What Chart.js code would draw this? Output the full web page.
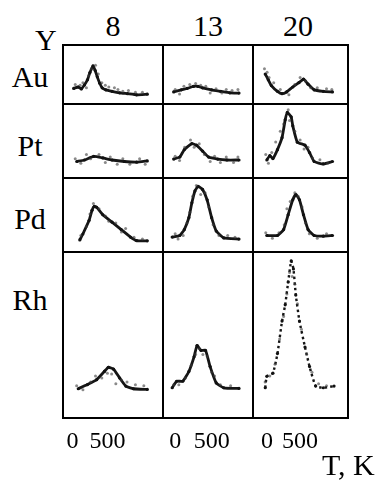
<!DOCTYPE html>
<html lang="en">
<head>
<meta charset="UTF-8">
<title>TPD spectra</title>
<script src="https://cdn.jsdelivr.net/npm/chart.js"></script>
<style>
	body { margin: 0; width: 384px; height: 481px; background: #fff; position: relative; overflow: hidden;
		font-family: "Liberation Serif", "Times New Roman", serif; color: #000; }
	.lbl { position: absolute; line-height: 1; font-size: 30px; white-space: nowrap; }
	.cell { position: absolute; }
	.line { position: absolute; background: #000; z-index: 2; }
</style>
</head>
<body>
<div id="grid"></div>
<script>
// column headers (particle size) and row labels (metal)
const sizes = ['8', '13', '20'];
const elements = ['Au', 'Pt', 'Pd', 'Rh'];
const yLabel = 'Y';
const axisTitle = 'T, K';
const tickValues = [0, 500];
const tickLabels = ['0', '500'];

// [T (K), intensity (a.u.)]
const au8 = [[17,13.3],[83,15],[127,12.7],[171,17.3],[215,23.3],[250,31.7],[294,39.3],[325,34],[355,26.7],[390,19.3],[425,14],[478,11.7],[566,10],[675,8.3],[785,7.3],[917,6],[1070,6.7]];
const au13 = [[-21,9.3],[84,11.7],[163,13.3],[250,15.7],[313,15.7],[375,14],[500,11.7],[625,10],[750,8.3],[875,8]];
const au20 = [[-28,30],[18,23.3],[65,16.7],[157,10],[226,7.3],[296,9.3],[389,15],[482,20],[551,24],[621,18.3],[713,11.7],[851,10],[990,9.3]];
const pt8 = [[62,14],[171,15.7],[303,19.7],[434,18],[566,15.7],[741,14],[917,13.3],[1070,14.7]];
const pt13 = [[-21,16.7],[63,19],[125,27.3],[229,34],[291,32.3],[375,25.7],[459,19],[584,16.7],[709,15.7],[875,15.7]];
const pt20 = [[-4,15.7],[42,20.7],[88,17.3],[157,27.3],[226,40.7],[274,60.7],[306,69],[365,64],[389,54],[458,35.7],[574,32.3],[643,24],[713,14],[851,11.3],[990,14]];
const pd8 = [[105,9],[149,15.7],[237,30.7],[280,42.3],[312,46.7],[346,45.7],[434,37.3],[566,29],[697,20.7],[829,12.3],[917,8.3],[1070,8]];
const pd13 = [[-41,12.3],[63,14],[125,20.7],[188,34],[229,50.7],[271,64],[313,69],[375,65.7],[438,54],[500,34],[563,19],[666,11.3],[875,10]];
const pd20 = [[-4,14],[157,14],[250,20.7],[319,37.3],[389,54],[435,60],[490,54],[551,37.3],[621,20.7],[713,14],[851,13.3],[990,14]];
const rh8 = [[83,31],[215,35.3],[346,40.3],[457,48.7],[513,53],[588,51],[675,42],[763,33.7],[872,31],[1070,30.3]];
const rh13 = [[-41,32],[21,38.7],[104,38.7],[188,48.7],[259,63.7],[300,75.3],[354,70.3],[416,70.3],[479,53.7],[563,37],[666,32],[875,31.3]];
const rh20 = [[-28,32],[-4,43.7],[88,47],[157,67],[226,100.3],[274,117],[319,140.3],[365,162],[399,153.7],[435,127],[490,100.3],[574,73.7],[643,53.7],[736,33.7],[851,32],[1014,33.7]];

// scattered points around each curve
const au8Noise = [[40,18],[110,17],[150,20],[200,14],[230,28],[270,36],[330,40],[370,30],[420,20],[470,17],[520,15],[600,14],[650,12],[720,10],[800,11],[900,9],[1000,9]];
const au13Noise = [[0,12],[60,7],[120,16],[200,18],[280,19],[350,17],[420,16],[480,8],[560,13],[640,8],[700,12],[780,11],[860,12]];
const au20Noise = [[-40,36],[0,32],[30,26],[100,20],[200,12],[330,6],[420,18],[500,26],[580,22],[660,14],[760,14],[900,13],[980,12]];
const pt8Noise = [[40,17],[120,12],[200,22],[260,17],[380,22],[470,13],[540,19],[640,11],[720,17],[820,11],[960,17],[1040,11]];
const pt13Noise = [[0,20],[60,15],[130,30],[210,38],[260,30],[330,34],[400,22],[480,14],[540,20],[620,13],[700,19],[800,13],[860,19]];
const pt20Noise = [[-20,22],[20,12],[70,24],[130,36],[200,48],[250,56],[320,72],[340,60],[420,48],[500,38],[560,28],[620,30],[690,18],[800,16],[920,12]];
const pd8Noise = [[120,14],[200,24],[250,38],[300,50],[380,44],[470,36],[520,30],[620,28],[700,18],[760,22],[880,12],[1000,10]];
const pd13Noise = [[0,16],[40,10],[110,14],[160,28],[200,40],[240,58],[290,70],[350,60],[410,62],[460,46],[520,26],[600,14],[720,14],[820,12]];
const pd20Noise = [[-20,17],[80,11],[180,17],[260,26],[300,44],[350,52],[420,62],[470,58],[530,46],[580,28],[640,16],[760,11],[900,16]];
const rh8Noise = [[60,34],[150,30],[260,38],[330,44],[420,42],[500,47],[560,46],[620,36],[700,40],[780,38],[900,35],[1020,34]];
const rh13Noise = [[-20,35],[50,35],[140,42],[220,55],[280,66],[330,72],[380,66],[440,64],[500,48],[540,44],[620,35],[760,34]];
const rh20Noise = [[-30,38],[40,44],[120,56],[190,82],[250,105],[300,128],[340,150],[380,146],[420,138],[460,118],[520,92],[600,66],[680,48],[780,36],[900,34]];

const curves = [[au8, au13, au20], [pt8, pt13, pt20], [pd8, pd13, pd20], [rh8, rh13, rh20]];
const noise = [[au8Noise, au13Noise, au20Noise], [pt8Noise, pt13Noise, pt20Noise], [pd8Noise, pd13Noise, pd20Noise], [rh8Noise, rh13Noise, rh20Noise]];

// layout of the panel grid (pixels)
const colLeft = [62, 163, 253], colRight = [163, 253, 349];
const rowTop = [44, 104, 178, 252], rowBottom = [104, 178, 252, 419];
const xRange = [[-92, 1237], [-112, 1012], [-153, 1180]];
const tickRoom = 40;

const grid = document.getElementById('grid');

function addText(text, left, top, size, width) {
	const d = document.createElement('div');
	d.className = 'lbl';
	d.textContent = text;
	d.style.left = left + 'px';
	d.style.top = top + 'px';
	d.style.fontSize = size + 'px';
	if(width) { d.style.width = width + 'px'; d.style.textAlign = 'center'; }
	grid.appendChild(d);
}

function addLine(left, top, width, height) {
	const d = document.createElement('div');
	d.className = 'line';
	d.style.left = left + 'px';
	d.style.top = top + 'px';
	d.style.width = width + 'px';
	d.style.height = height + 'px';
	grid.appendChild(d);
}

const tickPlugin = {
	id: 'bottomTicks',
	afterDraw(chart) {
		const ctx = chart.ctx;
		const xs = chart.scales.x;
		ctx.save();
		ctx.font = '24px "Liberation Serif", serif';
		ctx.fillStyle = '#000';
		ctx.textAlign = 'center';
		ctx.textBaseline = 'alphabetic';
		tickValues.forEach((v, i) => ctx.fillText(tickLabels[i], xs.getPixelForValue(v), chart.chartArea.bottom + 29));
		ctx.restore();
	}
};

function toPoints(arr) {
	return arr.map(p => ({ x: p[0], y: p[1] }));
}

function drawPanel(r, c) {
	const last = r === elements.length - 1;
	const w = colRight[c] - colLeft[c];
	const h = rowBottom[r] - rowTop[r];
	const cell = document.createElement('div');
	cell.className = 'cell';
	cell.style.left = colLeft[c] + 'px';
	cell.style.top = rowTop[r] + 'px';
	const canvas = document.createElement('canvas');
	canvas.width = w;
	canvas.height = h + (last ? tickRoom : 0);
	canvas.style.width = w + 'px';
	canvas.style.height = canvas.height + 'px';
	cell.appendChild(canvas);
	grid.appendChild(cell);
	const dotted = r === 3 && c === 2;
	new Chart(canvas, {
		type: 'scatter',
		data: {
			datasets: [{
				data: toPoints(noise[r][c]),
				pointRadius: 1.5,
				pointBackgroundColor: 'rgba(60,60,60,0.6)',
				pointBorderWidth: 0,
				showLine: false
			}, {
				data: toPoints(curves[r][c]),
				showLine: true,
				borderColor: '#161616',
				borderWidth: dotted ? 2.4 : 2.8,
				borderDash: dotted ? [2.5, 3] : [],
				tension: 0.15,
				pointRadius: 1.6,
				pointBackgroundColor: '#111',
				pointBorderWidth: 0
			}]
		},
		options: {
			responsive: false,
			animation: false,
			events: [],
			layout: { padding: { left: 0, right: 0, top: 0, bottom: last ? tickRoom : 0 } },
			plugins: { legend: { display: false }, tooltip: { enabled: false } },
			scales: {
				x: { type: 'linear', display: false, min: xRange[c][0], max: xRange[c][1] },
				y: { type: 'linear', display: false, min: 0, max: h }
			}
		},
		plugins: last ? [tickPlugin] : []
	});
}

for(let r = 0; r < elements.length; r++) {
	for(let c = 0; c < sizes.length; c++) drawPanel(r, c);
}

// frame lines
[62, 162, 252, 347].forEach(x => addLine(x, 44, 2, 375));
[44, 103, 177, 251, 417].forEach(y => addLine(62, y, 287, 2));

// labels (baseline = top + 0.84 * font size)
addText(yLabel, 35, 25, 30);
const headCenters = [113, 208, 298];
sizes.forEach((s, i) => addText(s, headCenters[i] - 30, 11, 30, 60));
const rowBaselines = [87, 156, 229, 310];
elements.forEach((e, i) => addText(e, 0, rowBaselines[i] - 25, 30, 60));
addText(axisTitle, 322, 450, 30);
</script>
</body>
</html>
